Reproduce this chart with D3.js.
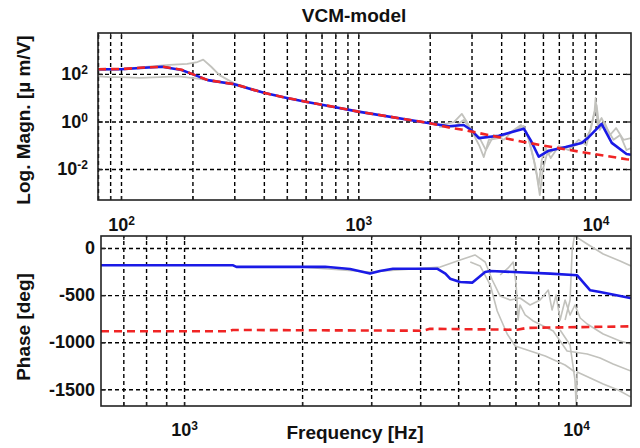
<!DOCTYPE html>
<html>
<head>
<meta charset="utf-8">
<script src="https://cdn.jsdelivr.net/npm/d3@7"></script>
<style>
  body { margin: 0; background: #fff; }
  svg text { font-family: "Liberation Sans", Arial, sans-serif; font-weight: bold; fill: #111; }
</style>
</head>
<body>
<svg id="chart" width="640" height="448"></svg>
<script>
// ---- magnitude panel data (Hz, um/V) ----
const blueMagFreq = [80, 100, 125, 149, 180, 200, 232, 300, 400, 500, 600, 800, 1000, 2000, 2410, 2780, 2990, 3220, 3910, 4980, 5330, 5760, 6350, 7480, 8730, 9350, 10600, 11700, 13500, 14100];
const blueMag = [158, 158, 182, 200, 145, 98, 55, 37, 16, 9.8, 6.8, 4.0, 2.6, 0.85, 0.63, 0.71, 0.44, 0.20, 0.25, 0.5, 0.16, 0.033, 0.059, 0.085, 0.126, 0.22, 0.79, 0.126, 0.043, 0.04];

const redMagFreq = [80, 100, 125, 150, 180, 200, 232, 300, 400, 500, 600, 800, 1000, 2000, 2410, 2780, 3910, 5760, 8730, 13500, 14100];
const redMag = [158, 160, 185, 200, 150, 98, 55, 37, 16, 9.8, 6.8, 4.0, 2.6, 0.85, 0.56, 0.44, 0.22, 0.105, 0.052, 0.026, 0.025];

const grayMag1Freq = [80, 90, 100, 120, 145, 175, 210, 260, 320, 400];
const grayMag1 = [79, 74, 74, 68, 74, 79, 63, 47, 33, 16];
const grayMag2Freq = [80, 100, 130, 160, 190, 210, 222, 240, 260, 300, 400];
const grayMag2 = [141, 158, 200, 240, 263, 316, 398, 200, 89, 40, 16];
const grayMag3Freq = [1950, 2190, 2530, 2730, 2870, 3070, 3230, 3380, 3550, 3910, 4310, 4750, 4980, 5230, 5490, 5650, 5820, 5990, 6220, 6660, 7340, 8090, 8910, 9530, 9910, 10000, 10200, 10600, 11100, 11900, 12700, 13500, 14100];
const grayMag3 = [0.87, 0.71, 0.95, 2.1, 0.95, 0.27, 0.10, 0.032, 0.17, 0.20, 0.33, 0.53, 0.65, 0.17, 0.024, 0.0056, 0.0008, 0.0092, 0.039, 0.063, 0.077, 0.093, 0.14, 0.44, 3.0, 9.7, 0.71, 1.4, 0.53, 0.17, 0.27, 0.063, 0.077];
const grayMag4Freq = [2190, 2530, 2780, 2990, 3230, 3450, 3730, 4100, 4520, 4850, 5120, 5370, 5560, 5760, 5930, 6160, 6470, 7000, 7700, 8480, 9150, 9720, 10100, 10400, 10900, 11500, 12200, 13100, 14100];
const grayMag4 = [0.59, 0.59, 1.15, 0.44, 0.22, 0.063, 0.27, 0.17, 0.44, 0.71, 0.36, 0.063, 0.015, 0.0021, 0.024, 0.077, 0.029, 0.093, 0.063, 0.17, 0.10, 1.15, 4.9, 0.44, 0.95, 0.27, 0.53, 0.17, 0.20];

// ---- phase panel data (Hz, deg) ----
const bluePhaseFreq = [614, 1334, 1360, 2290, 2650, 2980, 3160, 3410, 4420, 4640, 4770, 5060, 5430, 5860, 6040, 8590, 10060, 10860, 11510, 13740, 13800];
const bluePhase = [-184, -184, -201, -199, -223, -272, -244, -220, -220, -272, -326, -361, -368, -255, -244, -272, -290, -449, -467, -531, -535];

const redPhaseFreq = [614, 1295, 1330, 4070, 4240, 7070, 7500, 13800];
const redPhase = [-884, -884, -870, -878, -858, -868, -848, -832];

const grayPh1Freq = [1977, 2980, 4500, 5060, 5520, 5860, 6110, 6400, 6790, 7190, 7630, 8090, 8490, 8680, 8890, 9100, 9370, 9650, 9930, 10240, 10670, 11720, 12940, 13800];
const grayPh1 = [-202, -255, -202, -127, -74, -149, -340, -510, -552, -531, -605, -552, -446, -658, -499, -764, -552, -711, -605, -743, -807, -913, -987, -1019];
const grayPh2Freq = [6400, 6710, 6910, 7030, 7110, 7190, 7410, 7770, 8240, 8740, 9480, 10670, 11510, 12420, 13800];
const grayPh2 = [-287, -212, -149, -393, -764, -605, -711, -775, -828, -881, -1093, -1125, -1168, -1231, -1306];
const grayPh3Freq = [9370, 9650, 9770, 9890, 10000, 10670, 11720, 12940, 13800];
const grayPh3 = [-764, -552, -21, 117, 117, 42, -64, -138, -191];
const grayPh4Freq = [9100, 9650, 9930, 10000, 10060, 10860, 11720, 12800, 13800];
const grayPh4 = [-870, -1030, -1401, -1667, -1316, -1380, -1444, -1507, -1582];
const grayPh5Freq = [5370, 5690, 6040, 6290, 6670, 6990, 7500, 8340, 9370, 9930];
const grayPh5 = [-149, -191, -393, -669, -913, -1040, -1083, -1146, -1242, -1316];

// tick labels
const magXTicks = [100, 1000, 10000];
const magYTicks = [0.01, 1, 100];
const phXTicks = [1000, 10000];
const phYTicks = [-1500, -1000, -500, 0];

const BLUE = "#1a1ae6";
const RED = "#f02424";
const GRAY = "#c2c2bd";

const svg = d3.select("#chart");

const magBox = {left: 98, right: 631, top: 33, bottom: 200};
const phBox = {left: 101, right: 631, top: 236, bottom: 406};

const xMag = d3.scaleLog().domain([80, 14100]).range([magBox.left, magBox.right]);
const yMag = d3.scaleLog().domain([Math.pow(10, -3.3), Math.pow(10, 3.72)]).range([magBox.bottom, magBox.top]);
const xPh = d3.scaleLog().domain([614, 13800]).range([phBox.left, phBox.right]);
const yPh = d3.scaleLinear().domain([-1677, 127]).range([phBox.bottom, phBox.top]);

// every 1..9 x 10^n inside the domain
function logMinors(scale) {
  const [a, b] = scale.domain();
  let out = [];
  for (let e = Math.floor(Math.log10(a)); e <= Math.ceil(Math.log10(b)); e++) {
    for (let k = 1; k < 10; k++) {
      const v = k * Math.pow(10, e);
      if (v >= a && v <= b) out.push(v);
    }
  }
  return out;
}

function clip(id, box) {
  svg.append("clipPath").attr("id", id)
    .append("rect")
    .attr("x", box.left).attr("y", box.top)
    .attr("width", box.right - box.left).attr("height", box.bottom - box.top);
}

function grid(box, x, y, xVals, yVals) {
  const h = box.bottom - box.top, w = box.right - box.left;
  const gx = svg.append("g")
    .attr("transform", "translate(0," + box.bottom + ")")
    .call(d3.axisBottom(x).tickValues(xVals).tickSize(-h).tickFormat(""));
  const gy = svg.append("g")
    .attr("transform", "translate(" + box.left + ",0)")
    .call(d3.axisLeft(y).tickValues(yVals).tickSize(-w).tickFormat(""));
  [gx, gy].forEach(g => {
    g.select(".domain").remove();
    g.selectAll(".tick line")
      .attr("stroke", "#000")
      .attr("stroke-width", 1.4)
      .attr("stroke-dasharray", "4,3");
  });
}

// short inward tick marks on all four sides of a panel
function innerTicks(box, x, y, xVals, yVals) {
  const sides = [
    d3.axisBottom(x).tickValues(xVals).tickSize(-4), "translate(0," + box.bottom + ")",
    d3.axisTop(x).tickValues(xVals).tickSize(-4), "translate(0," + box.top + ")",
    d3.axisLeft(y).tickValues(yVals).tickSize(-5), "translate(" + box.left + ",0)",
    d3.axisRight(y).tickValues(yVals).tickSize(-5), "translate(" + box.right + ",0)"
  ];
  for (let i = 0; i < sides.length; i += 2) {
    const g = svg.append("g").attr("transform", sides[i + 1])
      .call(sides[i].tickFormat(""));
    g.select(".domain").remove();
    g.selectAll(".tick line").attr("stroke", "#222").attr("stroke-width", 1.3);
  }
}

function powLabels(g, size) {
  g.selectAll(".tick text").each(function(d) {
    const t = d3.select(this).text(null);
    t.append("tspan").text("10");
    t.append("tspan").attr("dy", "-0.5em").attr("font-size", "12px").text(Math.round(Math.log10(d)));
  });
  g.attr("font-size", size).attr("font-family", null);
  g.select(".domain").remove();
}

function curve(clipId, x, y, freq, vals, color, width, dash) {
  const line = d3.line().x(d => x(d[0])).y(d => y(d[1]));
  svg.append("path")
    .attr("clip-path", "url(#" + clipId + ")")
    .attr("d", line(d3.zip(freq, vals)))
    .attr("fill", "none")
    .attr("stroke", color)
    .attr("stroke-width", width)
    .attr("stroke-linejoin", "round")
    .attr("stroke-dasharray", dash || null);
}

function frame(box) {
  svg.append("rect")
    .attr("x", box.left).attr("y", box.top)
    .attr("width", box.right - box.left).attr("height", box.bottom - box.top)
    .attr("fill", "none").attr("stroke", "#222").attr("stroke-width", 1.6);
}

clip("clipMag", magBox);
clip("clipPh", phBox);

// --- magnitude panel ---
grid(magBox, xMag, yMag, logMinors(xMag), magYTicks);
curve("clipMag", xMag, yMag, grayMag1Freq, grayMag1, GRAY, 1.8);
curve("clipMag", xMag, yMag, grayMag2Freq, grayMag2, GRAY, 1.8);
curve("clipMag", xMag, yMag, grayMag3Freq, grayMag3, GRAY, 1.8);
curve("clipMag", xMag, yMag, grayMag4Freq, grayMag4, GRAY, 1.8);
curve("clipMag", xMag, yMag, blueMagFreq, blueMag, BLUE, 2.6);
curve("clipMag", xMag, yMag, redMagFreq, redMag, RED, 2.6, "8,5");
innerTicks(magBox, xMag, yMag, logMinors(xMag), magYTicks);
frame(magBox);

const magXAxis = svg.append("g")
  .attr("transform", "translate(0," + magBox.bottom + ")")
  .call(d3.axisBottom(xMag).tickValues(magXTicks).tickSize(0).tickPadding(18));
powLabels(magXAxis, 18);
const magYAxis = svg.append("g")
  .attr("transform", "translate(" + magBox.left + ",0)")
  .call(d3.axisLeft(yMag).tickValues(magYTicks).tickSize(0).tickPadding(10));
powLabels(magYAxis, 18);

// --- phase panel ---
grid(phBox, xPh, yPh, logMinors(xPh), phYTicks);
curve("clipPh", xPh, yPh, grayPh1Freq, grayPh1, GRAY, 1.6);
curve("clipPh", xPh, yPh, grayPh2Freq, grayPh2, GRAY, 1.6);
curve("clipPh", xPh, yPh, grayPh3Freq, grayPh3, GRAY, 1.6);
curve("clipPh", xPh, yPh, grayPh4Freq, grayPh4, GRAY, 1.6);
curve("clipPh", xPh, yPh, grayPh5Freq, grayPh5, GRAY, 1.6);
curve("clipPh", xPh, yPh, bluePhaseFreq, bluePhase, BLUE, 2.6);
curve("clipPh", xPh, yPh, redPhaseFreq, redPhase, RED, 2.6, "8,5");
innerTicks(phBox, xPh, yPh, logMinors(xPh), phYTicks);
frame(phBox);

const phXAxis = svg.append("g")
  .attr("transform", "translate(0," + phBox.bottom + ")")
  .call(d3.axisBottom(xPh).tickValues(phXTicks).tickSize(0).tickPadding(17));
powLabels(phXAxis, 18);
const phYAxis = svg.append("g")
  .attr("transform", "translate(" + phBox.left + ",0)")
  .call(d3.axisLeft(yPh).tickValues(phYTicks).tickSize(0).tickPadding(6).tickFormat(d => String(d)));
phYAxis.attr("font-size", 18).attr("font-family", null);
phYAxis.select(".domain").remove();

// --- titles and axis labels ---
svg.append("text").attr("x", 354).attr("y", 22)
  .attr("text-anchor", "middle").attr("font-size", 19).text("VCM-model");
svg.append("text").attr("transform", "translate(30,120) rotate(-90)")
  .attr("text-anchor", "middle").attr("font-size", 19).text("Log. Magn. [\u00b5 m/V]");
svg.append("text").attr("transform", "translate(30,327) rotate(-90)")
  .attr("text-anchor", "middle").attr("font-size", 19).text("Phase [deg]");
svg.append("text").attr("x", 355).attr("y", 439)
  .attr("text-anchor", "middle").attr("font-size", 19).text("Frequency [Hz]");
</script>
</body>
</html>
